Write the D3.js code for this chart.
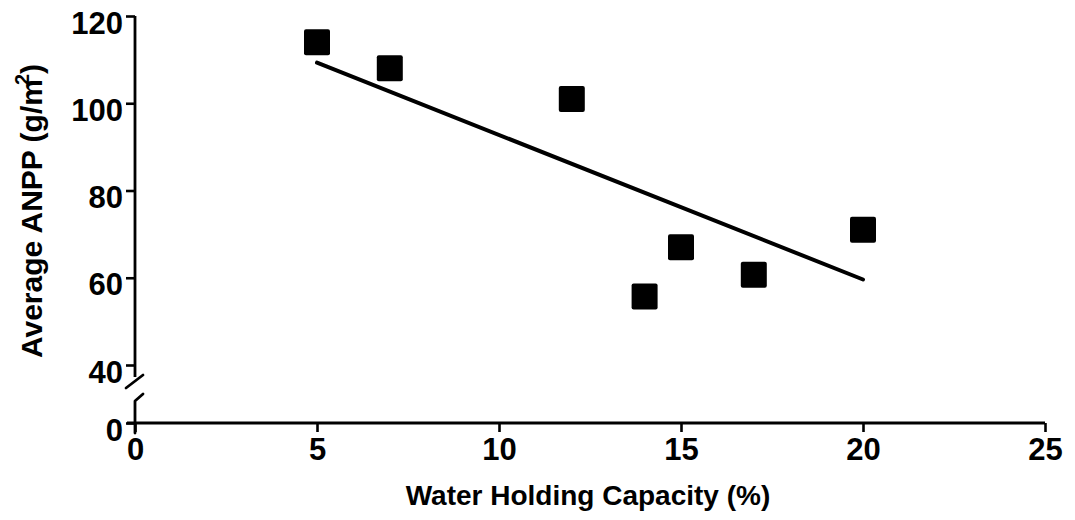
<!DOCTYPE html>
<html>
<head>
<meta charset="utf-8">
<script src="https://cdn.jsdelivr.net/npm/d3@7"></script>
<style>
  html, body { margin: 0; padding: 0; background: #fff; }
  svg { display: block; }
  text { font-family: "Liberation Sans", Arial, Helvetica, sans-serif; font-weight: bold; fill: #000; }
</style>
</head>
<body>
<svg id="chart" width="1075" height="520"></svg>
<script>
// ---- data ----
const whc = [5, 7, 12, 14, 15, 17, 20];                 // Water Holding Capacity (%)
const anpp = [114, 108, 101, 55.7, 67, 60.7, 71];       // Average ANPP (g/m2)
const fitX = [5, 20];                                    // regression line ends
const fitY = [109.3, 59.6];
const xTicks = [0, 5, 10, 15, 20, 25];
const yTicks = [0, 40, 60, 80, 100, 120];
const xTitle = "Water Holding Capacity (%)";
const yTitle = "Average ANPP (g/m";

const svg = d3.select("#chart");

const x = d3.scaleLinear().domain([0, 25]).range([135, 1045]);
// broken axis: 0 sits below the break, 40..120 above it
const y = d3.scaleLinear().domain([0, 40, 120]).range([423, 365, 16]);

// x axis
const xAxis = d3.axisBottom(x).tickValues(xTicks).tickSize(9).tickSizeOuter(0).tickPadding(10);
const gx = svg.append("g").attr("transform", `translate(0,${y(0)})`).call(xAxis);
gx.select(".domain").remove();
gx.selectAll(".tick line").attr("stroke", "#000").attr("stroke-width", 2.6);
gx.selectAll(".tick text").attr("font-size", 31).attr("dy", "0.71em").attr("y", 15);
svg.append("line")
  .attr("x1", 127).attr("x2", x(25)).attr("y1", y(0)).attr("y2", y(0))
  .attr("stroke", "#000").attr("stroke-width", 2.8);

// y axis
const yAxis = d3.axisLeft(y).tickValues(yTicks).tickSize(9).tickSizeOuter(0).tickPadding(3);
const gy = svg.append("g").attr("transform", `translate(${x(0)},0)`).call(yAxis);
gy.select(".domain").remove();
gy.selectAll(".tick line").attr("stroke", "#000").attr("stroke-width", 2.6);
gy.selectAll(".tick text").attr("font-size", 31).attr("dy", "0.55em").attr("x", -12);

const ax0 = x(0);
// upper part of the y axis
svg.append("path")
  .attr("d", `M${ax0},${y(120)} L${ax0},${y(40) + 12}`)
  .attr("fill", "none").attr("stroke", "#000").attr("stroke-width", 2.8);
// break slash (upper)
svg.append("path")
  .attr("d", `M${ax0 - 9},${y(40) + 23} L${ax0 + 8},${y(40) + 10}`)
  .attr("fill", "none").attr("stroke", "#000").attr("stroke-width", 2.8).attr("stroke-linecap", "round");
// lower part of the y axis with bent top
svg.append("path")
  .attr("d", `M${ax0},${y(0) + 10} L${ax0},${y(0) - 22} L${ax0 + 8},${y(0) - 29}`)
  .attr("fill", "none").attr("stroke", "#000").attr("stroke-width", 2.8).attr("stroke-linejoin", "round").attr("stroke-linecap", "round");

// regression line
svg.append("line")
  .attr("x1", x(fitX[0])).attr("y1", y(fitY[0]))
  .attr("x2", x(fitX[1])).attr("y2", y(fitY[1]))
  .attr("stroke", "#000").attr("stroke-width", 4).attr("stroke-linecap", "round");

// points
const s = 26;
svg.append("g").selectAll("rect")
  .data(whc.map((d, i) => ({x: d, y: anpp[i]})))
  .join("rect")
  .attr("x", d => x(d.x) - s / 2)
  .attr("y", d => y(d.y) - s / 2)
  .attr("width", s).attr("height", s)
  .attr("rx", 2).attr("fill", "#000");

// titles
svg.append("text")
  .attr("x", (x(0) + x(25)) / 2 - 2).attr("y", 505)
  .attr("text-anchor", "middle").attr("font-size", 28)
  .text(xTitle);

const yt = svg.append("text")
  .attr("transform", "translate(42,211) rotate(-90)")
  .attr("text-anchor", "middle").attr("font-size", 30);
yt.append("tspan").text(yTitle);
yt.append("tspan").attr("font-size", 20).attr("dy", -13).attr("dx", -6).text("2");
yt.append("tspan").attr("dy", 13).text(")");
</script>
</body>
</html>
